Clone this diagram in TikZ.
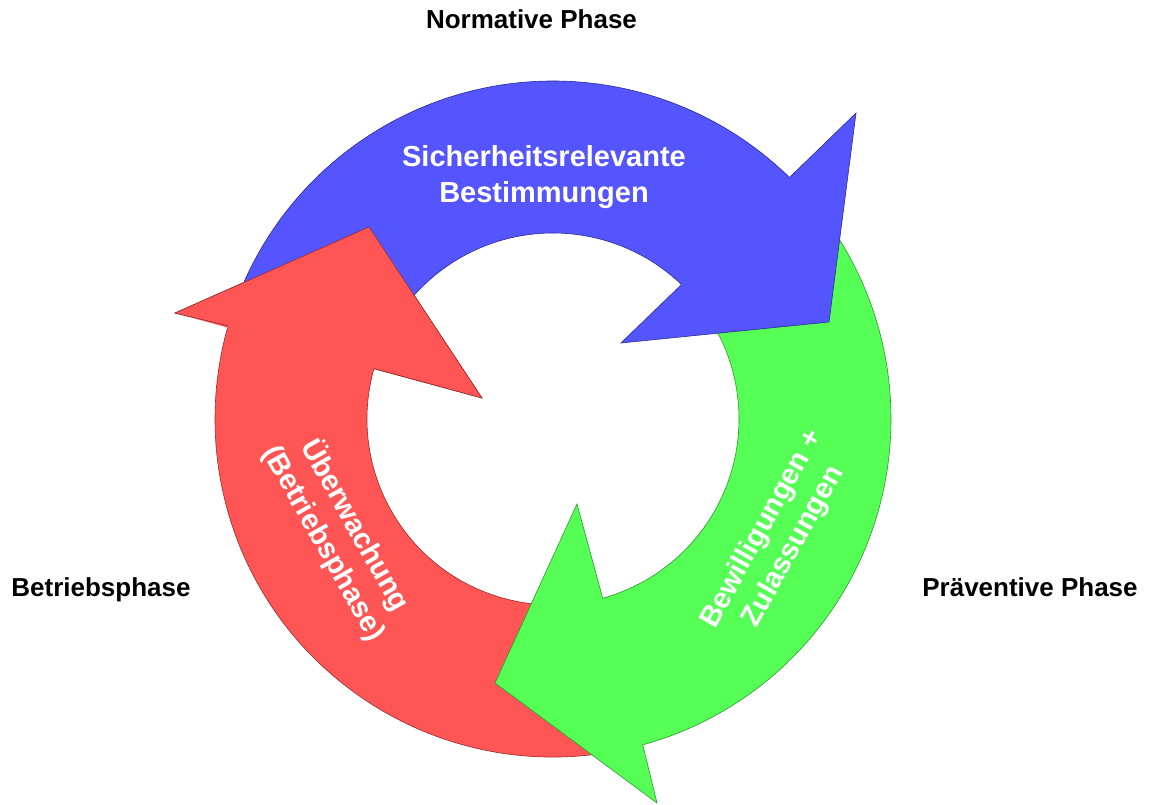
\documentclass[tikz,border=0pt]{standalone}
\usepackage{fontspec}
\setmainfont{Liberation Sans}
\usetikzlibrary{calc}
\definecolor{bluefill}{HTML}{5555FF}
\definecolor{blueline}{HTML}{2A2A99}
\definecolor{redfill}{HTML}{FF5555}
\definecolor{redline}{HTML}{992A2A}
\definecolor{greenfill}{HTML}{55FF55}
\definecolor{greenline}{HTML}{2A992A}
\begin{document}
\begin{tikzpicture}[x=1pt,y=1pt,
  bluearrow/.style={fill=bluefill, draw=blueline, line width=0.6pt},
  redarrow/.style={fill=redfill, draw=redline, line width=0.6pt},
  greenarrow/.style={fill=greenfill, draw=greenline, line width=0.6pt},
  phase/.style={font=\fontsize{26}{31}\selectfont\bfseries, text=black, inner sep=0pt, anchor=base},
  arrowtext/.style={font=\fontsize{29}{36}\selectfont\bfseries, text=white, align=center, inner sep=0pt}
]
\useasboundingbox (0,0) rectangle (1153,804);
\coordinate (C) at (553,385);
% red arrow (Betriebsphase)
\path[redarrow] ($(C)+(280:338)$) arc[start angle=280, end angle=164, radius=338]
  -- (175,491) -- (369,577) -- (482,406) -- ($(C)+(164.3:186)$)
  arc[start angle=164.3, end angle=280, radius=186] -- cycle;
% green arrow (Praeventive Phase)
\path[greenarrow] ($(C)+(38:338)$) arc[start angle=38, end angle=-74.6, radius=338]
  -- (657,1) -- (495,121) -- (577,300) -- ($(C)+(-74.5:186)$)
  arc[start angle=-74.5, end angle=38, radius=186] -- cycle;
% blue arrow (Normative Phase)
\path[bluearrow] ($(C)+(160:338)$) arc[start angle=160, end angle=45.6, radius=338]
  -- (856,691) -- (829,482) -- (621,461) -- ($(C)+(46.3:186)$)
  arc[start angle=46.3, end angle=160, radius=186] -- cycle;
% red arrow head lies over the blue tail
\fill[redfill] (175,491) -- (369,577) -- (482,406) -- cycle;
\draw[redline, line width=0.6pt] ($(C)+(164:338)$) -- (175,491) -- (369,577) -- (482,406) -- ($(C)+(164.3:186)$);
% texts
\node[arrowtext] (sich) at (544,627) {Sicherheitsrelevante\\Bestimmungen};
\node[arrowtext, rotate=-60.5] (ueber) at (340,270) {Überwachung\\(Betriebsphase)};
\node[arrowtext, rotate=61] (bewil) at (778,266) {Bewilligungen +\\Zulassungen};
\node[phase] (normative) at (531.5,775) {Normative Phase};
\node[phase] (betrieb) at (101,208) {Betriebsphase};
\node[phase] (praev) at (1030,208) {Präventive Phase};
\end{tikzpicture}
\end{document}
